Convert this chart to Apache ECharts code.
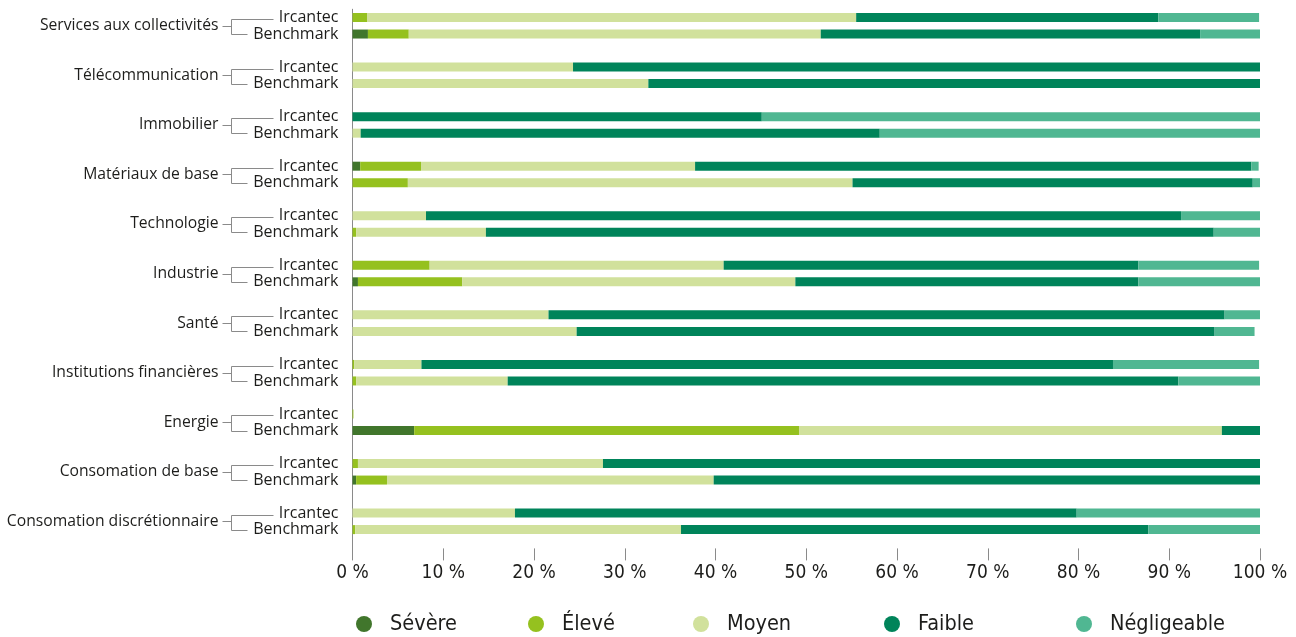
<!DOCTYPE html>
<html><head><meta charset="utf-8">
<script src="https://cdn.jsdelivr.net/npm/echarts@6/dist/echarts.min.js"></script>
<style>html,body{margin:0;padding:0;background:#fff}#c{width:1296px;height:637px}</style>
</head><body><div id="c"></div>
<script>
// ---- data ----
const sectors = ['Services aux collectivités','Télécommunication','Immobilier','Matériaux de base','Technologie','Industrie','Santé','Institutions financières','Energie','Consomation de base','Consomation discrétionnaire'];
const portfolios = ['Ircantec','Benchmark'];
const riskLevels = ['Sévère','Élevé','Moyen','Faible','Négligeable'];
const xTicks = [0,10,20,30,40,50,60,70,80,90,100];

const ircSevere = [0, 0, 0, 0.85, 0, 0, 0, 0, 0, 0, 0];
const benSevere = [1.7, 0, 0, 0, 0, 0.6, 0, 0, 6.8, 0.4, 0];
const ircEleve  = [1.6, 0, 0, 6.7, 0, 8.5, 0, 0.2, 0.1, 0.6, 0];
const benEleve  = [4.5, 0, 0, 6.1, 0.4, 11.5, 0, 0.4, 42.4, 3.4, 0.3];
const ircMoyen  = [53.9, 24.3, 0, 30.2, 8.1, 32.4, 21.6, 7.4, 0, 27.0, 17.9];
const benMoyen  = [45.4, 32.6, 0.9, 49.0, 14.3, 36.7, 24.7, 16.7, 46.6, 36.0, 35.9];
const ircFaible = [33.3, 75.7, 45.1, 61.3, 83.2, 45.7, 74.5, 76.2, 0, 72.4, 61.9];
const benFaible = [41.8, 67.4, 57.2, 44.1, 80.2, 37.8, 70.3, 73.9, 4.2, 60.2, 51.5];
const ircNegl   = [11.1, 0, 54.9, 0.8, 8.7, 13.3, 3.9, 16.1, 0, 0, 20.2];
const benNegl   = [6.6, 0, 41.9, 0.8, 5.1, 13.4, 4.4, 9.0, 0, 0, 12.3];

const colors = ['#41762c','#95c11f','#d1e19c','#00845a','#50b792'];

// ---- build ----
const levelData = [[ircSevere,benSevere],[ircEleve,benEleve],[ircMoyen,benMoyen],[ircFaible,benFaible],[ircNegl,benNegl]];
const categories = [];
sectors.forEach((s,i)=>{ categories.push(s+'|'+portfolios[0], s+'|'+portfolios[1], 'gap|'+i); });

const narrow = "'Liberation Sans Narrow','DejaVu Sans Condensed','Open Sans'";
const textColor = '#1d1d1b';
const lineColor = '#8a8a8a';

const barSeries = riskLevels.map((name,k)=>{
  const data = [];
  sectors.forEach((s,i)=>{ data.push(levelData[k][0][i], levelData[k][1][i], '-'); });
  return {name, type:'bar', stack:'total', barWidth:9, data, itemStyle:{color:colors[k]}, emphasis:{disabled:true}, animation:false};
});

const bracketSeries = {
  type:'custom', silent:true, clip:false, animation:false, z:5,
  data: sectors.map((s,i)=>[0, categories[i*3]]),
  renderItem(params, api){
    const i = params.dataIndex;
    const idx = api.value(1);
    const pI = api.coord([0, idx]);
    const pB = api.coord([0, idx+1]);
    const gx = params.coordSys.x;
    const r = v => Math.round(v)+0.5;
    const yI = r(pI[1]+1.5), yB = r(pB[1]), yM = r((pI[1]+pB[1])/2);
    const xV = r(gx-122);
    return {type:'group', children:[
      {type:'polyline', shape:{points:[[r(gx-80),yI],[xV,yI],[xV,yB],[r(gx-106),yB]]}, style:{stroke:lineColor, lineWidth:1, fill:null}},
      {type:'line', shape:{x1:r(gx-131), y1:yM, x2:xV, y2:yM}, style:{stroke:lineColor, lineWidth:1}},
      {type:'text', style:{text:sectors[i], x:gx-134, y:(pI[1]+pB[1])/2, align:'right', verticalAlign:'middle', fill:textColor, fontSize:15.7, fontFamily:'Open Sans'}}
    ]};
  }
};

const legendLeft = [356, 528, 693, 884, 1076];
const legends = riskLevels.map((name,k)=>({
  data:[name], left:legendLeft[k], top:613, padding:0, itemWidth:16, itemHeight:16, icon:'circle',
  selectedMode:false,
  textStyle:{color:textColor, fontSize:21.5, fontFamily:narrow, padding:[0,0,0,13]}
}));

const chart = echarts.init(document.getElementById('c'), null, {renderer:'canvas'});
chart.setOption({
  backgroundColor:'#fff',
  animation:false,
  legend: legends,
  grid:{left:352.5, right:36, top:9.25, bottom:82.6, containLabel:false},
  xAxis:{type:'value', min:xTicks[0], max:xTicks[xTicks.length-1], interval:10, offset:-6,
    axisLine:{show:false}, splitLine:{show:false},
    axisTick:{show:true, length:12, lineStyle:{color:lineColor, width:1}},
    axisLabel:{formatter:'{value} %', color:textColor, fontSize:19, fontFamily:narrow, margin:15}},
  yAxis:{type:'category', inverse:true, data:categories,
    axisLine:{show:true, lineStyle:{color:lineColor, width:1}},
    axisTick:{show:false},
    axisLabel:{interval:0, margin:14, color:textColor, fontSize:16, fontFamily:'Open Sans',
      formatter: v => v.startsWith('gap|') ? '' : v.split('|')[1]}},
  series: barSeries.concat([bracketSeries])
});
</script></body></html>
